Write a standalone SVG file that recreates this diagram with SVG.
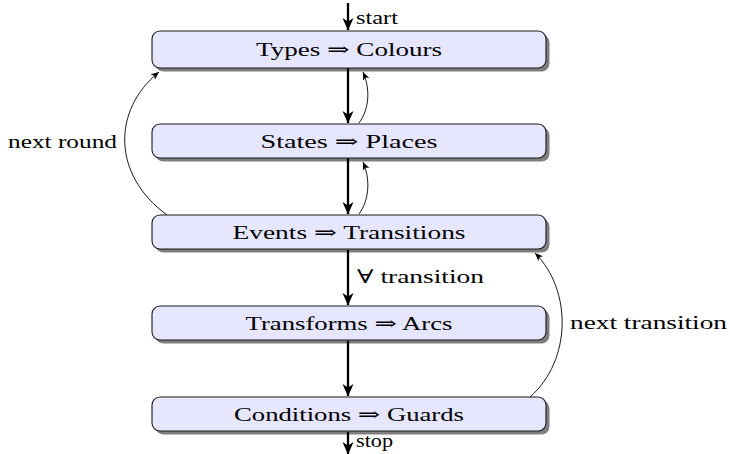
<svg xmlns="http://www.w3.org/2000/svg" width="730" height="454" viewBox="0 0 730 454">
  <defs>
    <style>
      .shadow { fill: #000; opacity: 0.5; }
      .box { fill: #e6e6ff; stroke: #1a1a1a; stroke-width: 1.1; }
      text { font-size: 19px; fill: #000; }
      .mid { text-anchor: middle; }
      .thick { fill: none; stroke: #000; stroke-width: 2.3; }
      .thin { fill: none; stroke: #000; stroke-width: 0.9; }
    </style>
    <marker id="headBig" markerUnits="userSpaceOnUse" markerWidth="14" markerHeight="12" refX="12" refY="6" orient="auto" viewBox="0 0 14 12">
      <path d="M0,0.5 L12.5,6 L0,11.5 L3.4,6 Z" fill="#000"/>
    </marker>
    <marker id="headSmall" markerUnits="userSpaceOnUse" markerWidth="9" markerHeight="8" refX="8" refY="4" orient="auto" viewBox="0 0 9 8">
      <path d="M0,0.6 L8,4 L0,7.4 L2,4 Z" fill="#000"/>
    </marker>
  </defs>

  <!-- connectors and their labels -->
  <g id="connectors" font-family="'Liberation Serif', 'Times New Roman', 'DejaVu Serif', serif">
    <path class="thick" d="M348,3 L348,30" marker-end="url(#headBig)"/>
    <path class="thick" d="M348,68 L348,123" marker-end="url(#headBig)"/>
    <path class="thick" d="M348,158 L348,214" marker-end="url(#headBig)"/>
    <path class="thick" d="M348,250 L348,305" marker-end="url(#headBig)"/>
    <path class="thick" d="M348,341 L348,396" marker-end="url(#headBig)"/>
    <path class="thick" d="M348,432 L348,454" marker-end="url(#headBig)"/>
    <path class="thin" d="M359,123 C370,108 370,88 363,72" marker-end="url(#headSmall)"/>
    <path class="thin" d="M359,214 C370,199 370,178 363,162" marker-end="url(#headSmall)"/>
    <path class="thin" d="M167,215 C112,175 112,110 159,72" marker-end="url(#headSmall)"/>
    <path class="thin" d="M530,397 C572,360 572,290 535,253" marker-end="url(#headSmall)"/>
    <text x="356" y="24" textLength="42" lengthAdjust="spacingAndGlyphs">start</text>
    <text x="356" y="447" textLength="37" lengthAdjust="spacingAndGlyphs">stop</text>
    <text x="8" y="148" textLength="109" lengthAdjust="spacingAndGlyphs">next round</text>
    <text x="357" y="283" textLength="127" lengthAdjust="spacingAndGlyphs">∀ transition</text>
    <text x="570" y="329" textLength="157" lengthAdjust="spacingAndGlyphs">next transition</text>
  </g>

  <g font-family="'Liberation Serif', 'Times New Roman', 'DejaVu Serif', serif">
    <g id="types">
      <rect class="shadow" x="155.5" y="34.5" width="394" height="37" rx="8"/>
      <rect class="box" x="152" y="31" width="394" height="37" rx="8"/>
      <text class="mid" x="349" y="56" textLength="186" lengthAdjust="spacingAndGlyphs">Types ⇒ Colours</text>
    </g>

    <g id="states">
      <rect class="shadow" x="155.5" y="127.5" width="394" height="34" rx="8"/>
      <rect class="box" x="152" y="124" width="394" height="34" rx="8"/>
      <text class="mid" x="349" y="148" textLength="177" lengthAdjust="spacingAndGlyphs">States ⇒ Places</text>
    </g>

    <g id="events">
      <rect class="shadow" x="155.5" y="218.5" width="394" height="34" rx="8"/>
      <rect class="box" x="152" y="215" width="394" height="34" rx="8"/>
      <text class="mid" x="349" y="239" textLength="233" lengthAdjust="spacingAndGlyphs">Events ⇒ Transitions</text>
    </g>

    <g id="transforms">
      <rect class="shadow" x="155.5" y="309.5" width="394" height="34" rx="8"/>
      <rect class="box" x="152" y="306" width="394" height="34" rx="8"/>
      <text class="mid" x="349" y="330" textLength="207" lengthAdjust="spacingAndGlyphs">Transforms ⇒ Arcs</text>
    </g>

    <g id="conditions">
      <rect class="shadow" x="155.5" y="400.5" width="394" height="34" rx="8"/>
      <rect class="box" x="152" y="397" width="394" height="34" rx="8"/>
      <text class="mid" x="349" y="421" textLength="230" lengthAdjust="spacingAndGlyphs">Conditions ⇒ Guards</text>
    </g>
  </g>
</svg>
